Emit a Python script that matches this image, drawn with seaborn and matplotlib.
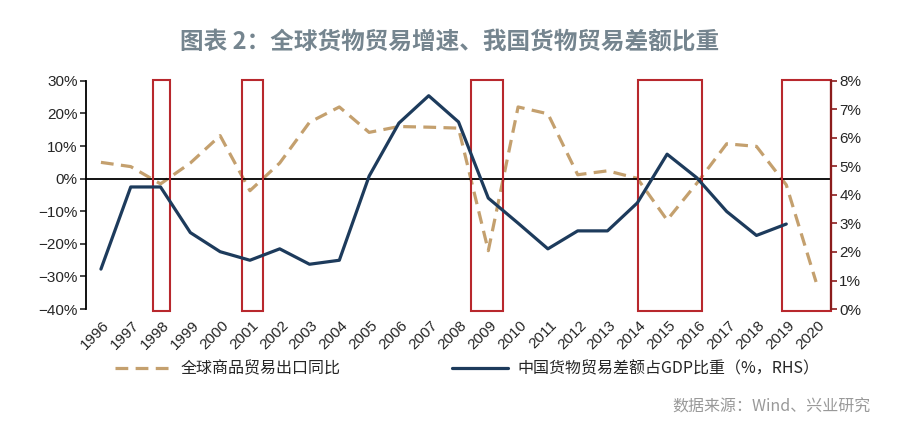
import numpy as np
import pandas as pd
import seaborn as sns
import matplotlib.pyplot as plt
from matplotlib.patches import Rectangle
from matplotlib.ticker import FuncFormatter

years = list(range(1996, 2021))
# 全球商品贸易出口同比 (%)
export_yoy = [5.0, 3.7, -1.6, 4.8, 13.2, -3.7, 4.8, 17.3, 22.0, 14.2, 16.0, 15.8, 15.5,
              -22.1, 22.0, 19.9, 1.2, 2.4, 0.1, -12.7, -1.4, 10.7, 9.9, -1.9, -31.7]
# 中国货物贸易差额占GDP比重 (%, RHS)
surplus_gdp = [1.40, 4.28, 4.28, 2.68, 2.01, 1.71, 2.11, 1.57, 1.71, 4.66, 6.52, 7.48, 6.56,
               3.89, 3.01, 2.11, 2.74, 2.74, 3.72, 5.43, 4.60, 3.42, 2.58, 2.98, np.nan]
# 红框标注的年份区间
highlight = [(1997.76, 1998.31), (2000.75, 2001.44), (2008.43, 2009.5),
             (2014.04, 2016.17), (2018.87, 2020.5)]

df = pd.DataFrame({'year': years, 'idx': range(len(years)),
                   'export': export_yoy, 'surplus': surplus_gdp})

sns.set_style('white')
plt.rcParams['font.family'] = ['Liberation Sans', 'Noto Sans CJK SC', 'DejaVu Sans']
cjk = ['Noto Sans CJK SC', 'DejaVu Sans']

fig = plt.figure(figsize=(9, 4.28), dpi=100)
ax = fig.add_axes([0.0956, 0.278, 0.8277, 0.533])
ax2 = ax.twinx()

tan = '#c4a06e'
navy = '#1d3b5c'
red = '#b8282d'

sns.lineplot(data=df, x='idx', y='export', ax=ax, color=tan, lw=2.3,
             linestyle=(0, (4, 2.3)), label='全球商品贸易出口同比', legend=False)
sns.lineplot(data=df.dropna(), x='idx', y='surplus', ax=ax2, color=navy, lw=2.3,
             label='中国货物贸易差额占GDP比重（%，RHS）', legend=False)

ax.set_xlim(-0.5, len(years) - 0.5)
ax.set_ylim(-40, 30)
ax2.set_ylim(0, 8)
ax.set_yticks(range(-40, 31, 10))
ax2.set_yticks(range(0, 9))
ax.yaxis.set_major_formatter(FuncFormatter(lambda v, p: f'{v:.0f}%'.replace('-', '−')))
ax2.yaxis.set_major_formatter(FuncFormatter(lambda v, p: f'{v:.0f}%'))
ax.set_xlabel('')
ax.set_ylabel('')
ax2.set_xlabel('')
ax2.set_ylabel('')

# x axis sits on zero line, ticks at category boundaries
ax.spines['bottom'].set_position(('data', 0))
ax.set_xticks(np.arange(0.5, len(years) - 1, 1))
ax.tick_params(axis='x', length=4, width=1, direction='out', labelbottom=False, color='black')
ax.spines['bottom'].set_color('black')
ax.spines['bottom'].set_linewidth(1.3)
for s in ['top', 'right']:
    ax.spines[s].set_visible(False)
for s in ['top', 'left', 'bottom']:
    ax2.spines[s].set_visible(False)
ax.spines['left'].set_color('black')
ax.spines['left'].set_linewidth(1.3)
ax2.spines['right'].set_color('#8b1c1c')
ax2.spines['right'].set_linewidth(1.6)
ax.tick_params(axis='y', length=4, width=1.2, direction='out', labelsize=11, pad=2)
ax2.tick_params(axis='y', length=4, width=1.2, direction='out', labelsize=11,
                color='#8b1c1c', pad=2)

# year labels along the bottom
for i, y in enumerate(years):
    ax.text(i + 0.05, -0.04, str(y), transform=ax.get_xaxis_transform(),
            rotation=45, ha='right', va='top', rotation_mode='anchor', fontsize=11)

# red highlight boxes
for lo, hi in highlight:
    x0 = lo - years[0]
    x1 = hi - years[0]
    ax.add_patch(Rectangle((x0, -40.5), x1 - x0, 70.9, fill=False, edgecolor=red,
                           lw=1.5, clip_on=False, zorder=5))

fig.text(0.5, 0.903, '图表 2：全球货物贸易增速、我国货物贸易差额比重', ha='center',
         va='center', fontsize=17, fontweight='bold', color='#75858f', family=cjk)

h1, l1 = ax.get_legend_handles_labels()
h2, l2 = ax2.get_legend_handles_labels()
fig.legend(h1 + h2, l1 + l2, loc='center', bbox_to_anchor=(0.519, 0.138), ncol=2,
           frameon=False, prop={'family': cjk, 'size': 11.5}, handlelength=3.5,
           columnspacing=7, handletextpad=0.6)

fig.text(0.967, 0.048, '数据来源：Wind、兴业研究', ha='right', va='center',
         fontsize=11.5, color='#999999', family=cjk)

fig.savefig('out.png', dpi=100, facecolor='white')
